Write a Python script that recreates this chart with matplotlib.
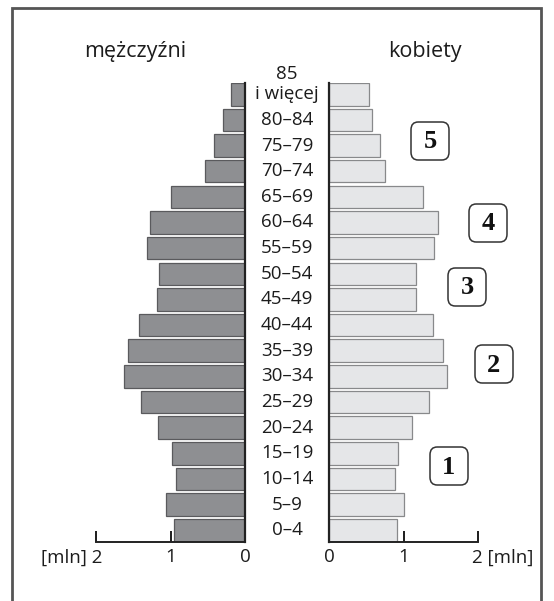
import numpy as np
import matplotlib.pyplot as plt
from matplotlib.patches import Rectangle, FancyBboxPatch
from matplotlib.transforms import ScaledTranslation

# ==============================
# dane - piramida wieku (mln)
# ==============================
age_groups = ["0–4", "5–9", "10–14", "15–19", "20–24", "25–29", "30–34", "35–39",
              "40–44", "45–49", "50–54", "55–59", "60–64", "65–69", "70–74",
              "75–79", "80–84", "85\ni więcej"]
men = [0.95, 1.06, 0.93, 0.98, 1.17, 1.40, 1.62, 1.57, 1.42, 1.18, 1.15, 1.31,
       1.27, 1.00, 0.54, 0.42, 0.30, 0.19]
women = [0.91, 1.00, 0.89, 0.93, 1.11, 1.34, 1.58, 1.53, 1.40, 1.17, 1.17, 1.41,
         1.46, 1.26, 0.75, 0.68, 0.58, 0.54]
box_labels = ["1", "2", "3", "4", "5"]
box_pos = [(449, 466), (494, 364), (467, 287), (488, 223), (430, 141)]  # px

W, H = 554, 601
TXT = "#1c1c1c"
plt.rcParams['font.family'] = ['Open Sans', 'DejaVu Sans']

fig = plt.figure(figsize=(W / 100, H / 100), dpi=100)
fig.patch.set_facecolor("white")

y = np.arange(len(age_groups))
bh = 0.88
bottom = 1 - 541.5 / H
top = 1 - 83 / H

axL = fig.add_axes([96 / W, bottom, 149 / W, top - bottom])
axR = fig.add_axes([329 / W, bottom, 149 / W, top - bottom])

axL.barh(y, men, height=bh, color="#8e8f92", edgecolor="#5a5a5d", linewidth=0.9)
axR.barh(y, women, height=bh, color="#e5e6e8", edgecolor="#88898b", linewidth=0.9)

for ax in (axL, axR):
    ax.set_xlim(0, 2)
    ax.set_ylim(-bh / 2, len(age_groups) - 1 + bh / 2)
    ax.set_yticks([])
    ax.set_facecolor("none")
    ax.spines["top"].set_visible(False)
    ax.spines["bottom"].set_linewidth(1.4)
    ax.spines["bottom"].set_color("#222222")
    ax.set_xticks([0, 1, 2])
    ax.tick_params(axis="x", direction="in", length=8, width=1.4, labelsize=13.5,
                   pad=5, colors=TXT)

axL.invert_xaxis()
axL.spines["left"].set_visible(False)
axL.spines["right"].set_linewidth(1.6)
axL.spines["right"].set_color("#222222")
axR.spines["right"].set_visible(False)
axR.spines["left"].set_linewidth(1.6)
axR.spines["left"].set_color("#222222")

axL.set_xticklabels(["0", "1", "[mln] 2"])
axR.set_xticklabels(["0", "1", "2 [mln]"])
# etykiety z jednostką - liczba pod kreską
lab = axL.get_xticklabels()[2]
lab.set_horizontalalignment("right")
lab.set_transform(lab.get_transform() + ScaledTranslation(6 / 100, 0, fig.dpi_scale_trans))
lab = axR.get_xticklabels()[2]
lab.set_horizontalalignment("left")
lab.set_transform(lab.get_transform() + ScaledTranslation(-6 / 100, 0, fig.dpi_scale_trans))

# etykiety grup wieku w środku
cx = 287 / W
for i, g in enumerate(age_groups):
    yy = axL.transData.transform((0, i))[1]
    yf = fig.transFigure.inverted().transform((0, yy))[1]
    if "\n" in g:
        fig.text(cx, yf, "i więcej", ha="center", va="center", fontsize=13.5, color=TXT)
        fig.text(cx, yf + 20 / H, "85", ha="center", va="center", fontsize=13.5, color=TXT)
    else:
        fig.text(cx, yf, g, ha="center", va="center", fontsize=13.5, color=TXT)

# nagłówki
fig.text(135 / W, 1 - 51 / H, "mężczyźni", ha="center", va="center", fontsize=15.5,
         color=TXT)
fig.text(425 / W, 1 - 51 / H, "kobiety", ha="center", va="center", fontsize=15.5,
         color=TXT)

# ramki z numerami
bw = 38
for t, (px, py) in zip(box_labels, box_pos):
    fig.patches.append(FancyBboxPatch(((px - bw / 2) / W, 1 - (py + bw / 2) / H),
                                      bw / W, bw / H,
                                      boxstyle="round,pad=0,rounding_size=0.013",
                                      transform=fig.transFigure, fc="white",
                                      ec="#333333", lw=1.1))
    fig.text(px / W, 1 - (py + 1) / H, t, ha="center", va="center", fontsize=19,
             fontweight="bold", family="Liberation Serif", color="#111111")

# zewnętrzna ramka
fig.patches.append(Rectangle((12 / W, -0.05), (541 - 12) / W, 1.05 - 8 / H,
                             transform=fig.transFigure, fill=False,
                             ec="#555555", lw=2.0))

fig.savefig("out.png", dpi=100, facecolor="white")
